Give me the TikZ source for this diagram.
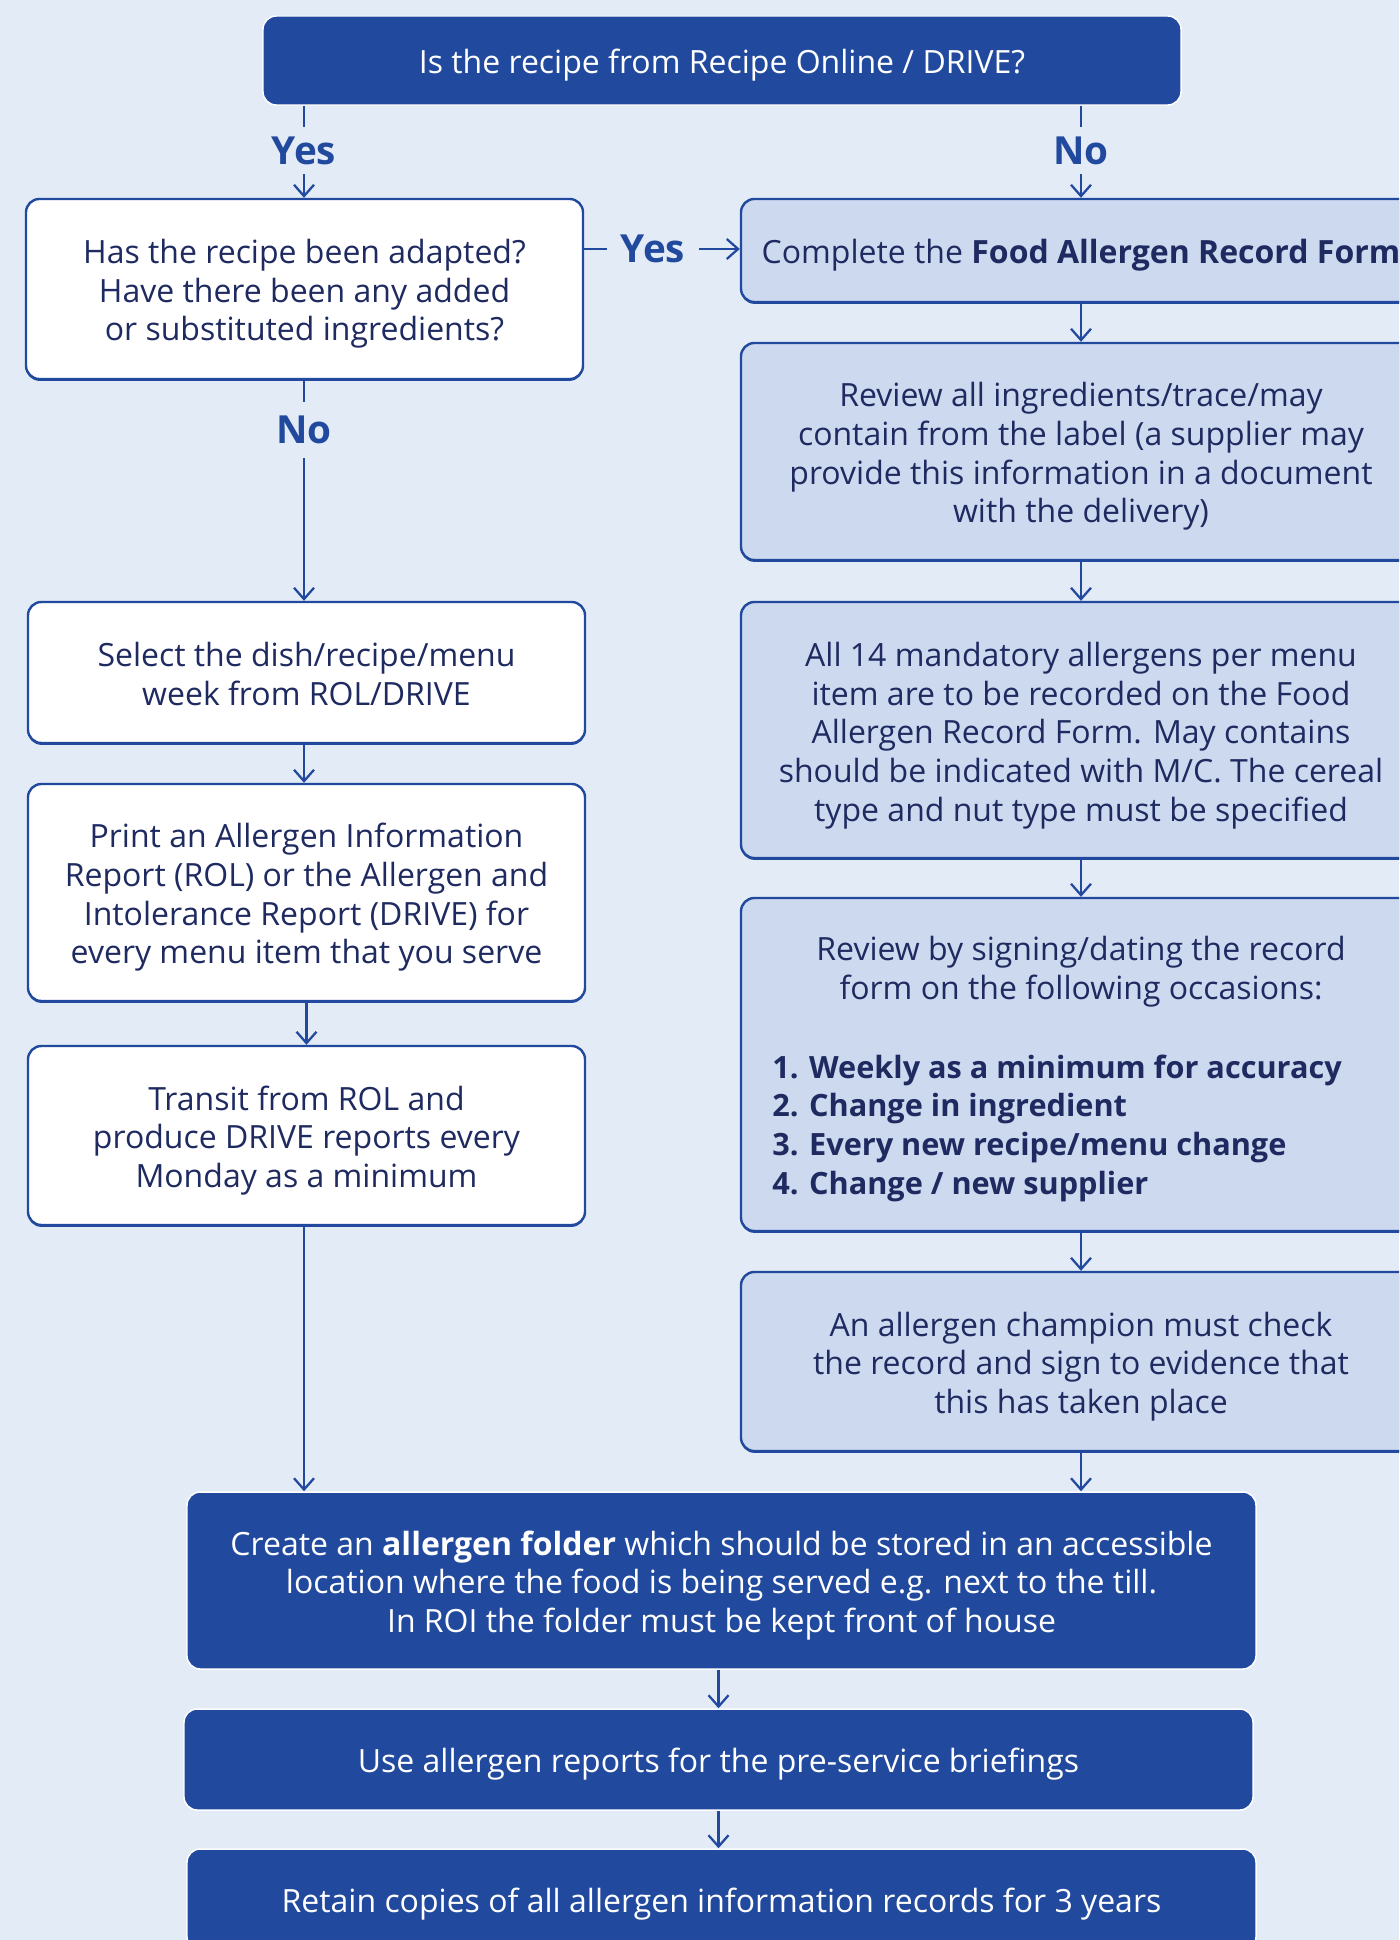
\documentclass[tikz,border=0pt]{standalone}
\usepackage{fontspec}
\setmainfont{Open Sans}
\usetikzlibrary{arrows.meta,shadows}
\definecolor{bg}{RGB}{227,235,246}
\definecolor{dblue}{RGB}{33,73,157}
\definecolor{lblue}{RGB}{204,217,238}
\definecolor{navy}{RGB}{30,42,96}
\tikzset{
  basebox/.style={rounded corners=10pt, inner sep=0pt, align=center,
    font=\fontsize{24}{29}\selectfont,
    execute at begin node={\rule{0pt}{25pt}}},
  lift/.style={execute at begin node={\rule{0pt}{#1}}},
  darkbox/.style={basebox, fill=dblue, draw=white, line width=1.1pt, text=white},
  whitebox/.style={basebox, fill=white, draw=dblue, line width=1.8pt, text=navy,
    general shadow={fill=dblue, shadow yshift=-1.4pt}},
  lightbox/.style={basebox, fill=lblue, draw=dblue, line width=1.8pt, text=navy,
    general shadow={fill=dblue, shadow yshift=-1.4pt}},
  lbl/.style={inner sep=0pt, text=dblue, text height=20.7pt, text depth=0pt,
    font=\fontsize{29}{34}\selectfont\bfseries},
  txt/.style={inner sep=0pt, text=navy, font=\fontsize{24}{29}\selectfont},
  conn/.style={draw=dblue, line width=1.7pt},
  arr/.style={conn, -{Straight Barb[length=8.5pt,width=15pt,line width=1.7pt]}}
}
\begin{document}
\begin{tikzpicture}[x=0.75pt,y=-0.75pt]
\path[use as bounding box] (0,0) rectangle (1399,1940);
\clip (0,0) rectangle (1399,1940);
\fill[bg] (0,0) rectangle (1399,1940);

% top question
\node[darkbox, minimum width=688.5pt, minimum height=66.75pt] (q) at (722,60.5)
  {Is the recipe from Recipe Online / DRIVE?};

% left column
\node[whitebox, lift=83.7pt, minimum width=417.75pt, minimum height=135pt] (adapt) at (304.5,289)
  {Has the recipe been adapted?\\Have there been any added\\or substituted ingredients?};
\node[whitebox, lift=49.1pt, minimum width=417.75pt, minimum height=105.75pt] (select) at (306.5,672.5)
  {Select the dish/recipe/menu\\week from ROL/DRIVE};
\node[whitebox, lift=112.7pt, minimum width=417.75pt, minimum height=162.75pt] (print) at (306.5,892.5)
  {Print an Allergen Information\\Report (ROL) or the Allergen and\\Intolerance Report (DRIVE) for\\every menu item that you serve};
\node[whitebox, lift=83.7pt, minimum width=417.75pt, minimum height=134.25pt] (transit) at (306.5,1135.5)
  {Transit from ROL and\\produce DRIVE reports every\\Monday as a minimum};

% right column
\node[lightbox, minimum width=510pt, minimum height=77.25pt] (complete) at (1081,250.5)
  {Complete the \textbf{Food Allergen Record Form}};
\node[lightbox, lift=112.7pt, minimum width=510pt, minimum height=162.75pt] (reviewall) at (1081,451.5)
  {Review all ingredients/trace/may\\contain from the label (a supplier may\\provide this information in a document\\with the delivery)};
\node[lightbox, lift=142.6pt, minimum width=510pt, minimum height=192pt] (all14) at (1081,730)
  {All 14 mandatory allergens per menu\\item are to be recorded on the Food\\Allergen Record Form. May contains\\should be indicated with M/C. The cereal\\type and nut type must be specified};
\node[lightbox, minimum width=510pt, minimum height=249.75pt] (sign) at (1081,1064.5) {};
\node[txt, align=center] (signhead) at (1081,972)
  {Review by signing/dating the record\\form on the following occasions:};
\node[txt, align=left, anchor=west, font=\fontsize{23}{29}\selectfont\bfseries] (signlist) at (772,1128)
  {1. Weekly as a minimum for accuracy\\2. Change in ingredient\\3. Every new recipe/menu change\\4. Change / new supplier};
\node[lightbox, lift=83.7pt, minimum width=510pt, minimum height=134.25pt] (champ) at (1081,1361.5)
  {An allergen champion must check\\the record and sign to evidence that\\this has taken place};

% bottom
\node[darkbox, lift=83.7pt, minimum width=801.75pt, minimum height=132.75pt] (folder) at (721.5,1580.5)
  {Create an \textbf{allergen folder} which should be stored in an accessible\\location where the food is being served e.g. next to the till.\\In ROI the folder must be kept front of house};
\node[darkbox, minimum width=801.75pt, minimum height=75.75pt] (use) at (718.5,1759.5)
  {Use allergen reports for the pre-service briefings};
\node[darkbox, minimum width=801.75pt, minimum height=75.75pt] (retain) at (721.5,1899.5)
  {Retain copies of all allergen information records for 3 years};

% labels
\node[lbl, minimum height=35.25pt] (yes1) at (304,150.5) {Yes};
\node[lbl, minimum height=35.25pt] (no1) at (1081,150.5) {No};
\node[lbl, minimum width=69pt] (yes2) at (653,249) {Yes};
\node[lbl, minimum height=42pt] (no2) at (304,430) {No};

% connectors
\draw[conn] (q.south -| yes1) -- (yes1.north);
\draw[arr] (yes1.south) -- (adapt.north -| yes1);
\draw[conn] (q.south -| no1) -- (no1.north);
\draw[arr] (no1.south) -- (complete.north);
\draw[conn] (adapt.east |- yes2) -- (yes2.west);
\draw[arr] (yes2.east) -- (complete.west |- yes2);
\draw[conn] (adapt.south -| no2) -- (no2.north);
\draw[arr] (no2.south) -- (select.north -| no2);
\draw[arr] (select.south -| no2) -- (print.north -| no2);
\draw[arr] (print.south) -- (transit.north);
\draw[arr] (transit.south -| no2) -- (folder.north -| no2);
\draw[arr] (complete.south) -- (reviewall.north);
\draw[arr] (reviewall.south) -- (all14.north);
\draw[arr] (all14.south) -- (sign.north);
\draw[arr] (sign.south) -- (champ.north);
\draw[arr] (champ.south) -- (folder.north -| champ.south);
\draw[arr] (folder.south -| use.north) -- (use.north);
\draw[arr] (use.south) -- (retain.north -| use.south);
\end{tikzpicture}
\end{document}
